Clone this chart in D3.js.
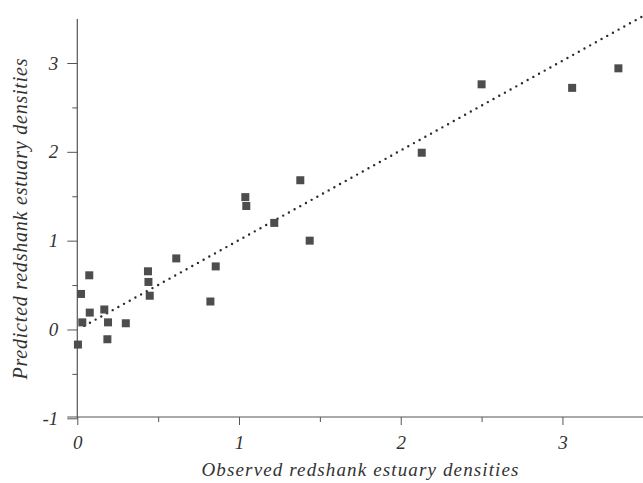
<!DOCTYPE html>
<html>
<head>
<meta charset="utf-8">
<script src="https://cdn.jsdelivr.net/npm/d3@7"></script>
<style>
  body { margin: 0; background: #fff; }
  svg { display: block; }
  text { font-family: "Liberation Serif", "DejaVu Serif", serif; font-style: italic; fill: #333; }
</style>
</head>
<body>
<svg width="643" height="483"></svg>
<script>
// observed vs predicted redshank densities
const observed = [0.074, 0.023, 0.077, 0.031, 0.004, 0.167, 0.19, 0.186, 0.30, 0.437, 0.44, 0.448,
    0.612, 0.856, 0.823, 1.039, 1.045, 1.218, 1.379, 1.437, 2.13, 2.50, 3.06, 3.346];
const predicted = [0.61, 0.40, 0.19, 0.08, -0.17, 0.225, 0.08, -0.11, 0.07, 0.655, 0.535, 0.38,
    0.80, 0.71, 0.315, 1.49, 1.39, 1.20, 1.68, 1.00, 1.99, 2.76, 2.72, 2.94];

// fitted line end points
const fitX = [0.043, 3.49];
const fitY = [0.04, 3.52];

const xTicks = [0, 1, 2, 3];
const xMinor = [0.5, 1.5, 2.5, 3.5];
const yTicks = [-1, 0, 1, 2, 3];
const yMinor = [-0.5, 0.5, 1.5, 2.5];

const svg = d3.select("svg");

const x = d3.scaleLinear().domain([0, 3.5]).range([77.3, 643.3]);
const y = d3.scaleLinear().domain([-1, 3]).range([418.3, 63]);

const axisColor = "#555";
const plain = d => String(d);   // keep a hyphen for negatives like the original

// axis lines
svg.append("line")
    .attr("x1", x(0)).attr("x2", x(0))
    .attr("y1", 19).attr("y2", y(-1))
    .attr("stroke", axisColor).attr("stroke-width", 1.2);
svg.append("line")
    .attr("x1", x(0) - 10).attr("x2", 643)
    .attr("y1", 417).attr("y2", 417)
    .attr("stroke", axisColor).attr("stroke-width", 1.2);

// y axis
const yAxis = svg.append("g")
    .attr("transform", `translate(${x(0)},0)`)
    .call(d3.axisLeft(y).tickValues(yTicks).tickSize(10).tickPadding(9).tickFormat(plain));
yAxis.select(".domain").remove();
yAxis.selectAll("line").attr("stroke", axisColor);
yAxis.selectAll("text").attr("font-size", 19).style("fill", "#333");

const yAxisMinor = svg.append("g")
    .attr("transform", `translate(${x(0)},0)`)
    .call(d3.axisLeft(y).tickValues(yMinor).tickSize(5).tickFormat(""));
yAxisMinor.select(".domain").remove();
yAxisMinor.selectAll("line").attr("stroke", axisColor);

// x axis
const xAxis = svg.append("g")
    .attr("transform", "translate(0,417)")
    .call(d3.axisBottom(x).tickValues(xTicks).tickSize(8).tickPadding(11).tickFormat(plain));
xAxis.select(".domain").remove();
xAxis.selectAll("line").attr("stroke", axisColor);
xAxis.selectAll("text").attr("font-size", 19).style("fill", "#333");

const xAxisMinor = svg.append("g")
    .attr("transform", "translate(0,417)")
    .call(d3.axisBottom(x).tickValues(xMinor).tickSize(5).tickFormat(""));
xAxisMinor.select(".domain").remove();
xAxisMinor.selectAll("line").attr("stroke", axisColor);

// fitted line, dotted
svg.append("line")
    .attr("x1", x(fitX[0])).attr("y1", y(fitY[0]))
    .attr("x2", x(fitX[1])).attr("y2", y(fitY[1]))
    .attr("stroke", "#2a2a2a")
    .attr("stroke-width", 2.4)
    .attr("stroke-linecap", "round")
    .attr("stroke-dasharray", "0 6.5");

// points
const sq = 8;
svg.append("g")
    .selectAll("rect")
    .data(observed.map((d, i) => [d, predicted[i]]))
    .enter().append("rect")
    .attr("x", d => x(d[0]) - sq / 2)
    .attr("y", d => y(d[1]) - sq / 2)
    .attr("width", sq)
    .attr("height", sq)
    .attr("fill", "#4d4d4d");

// axis titles
svg.append("text")
    .attr("x", 360).attr("y", 476)
    .attr("text-anchor", "middle")
    .attr("font-size", 19)
    .attr("textLength", 317)
    .attr("lengthAdjust", "spacing")
    .text("Observed redshank estuary densities");

svg.append("text")
    .attr("transform", "translate(27,219) rotate(-90)")
    .attr("text-anchor", "middle")
    .attr("font-size", 20)
    .attr("textLength", 321)
    .attr("lengthAdjust", "spacing")
    .text("Predicted redshank estuary densities");
</script>
</body>
</html>
